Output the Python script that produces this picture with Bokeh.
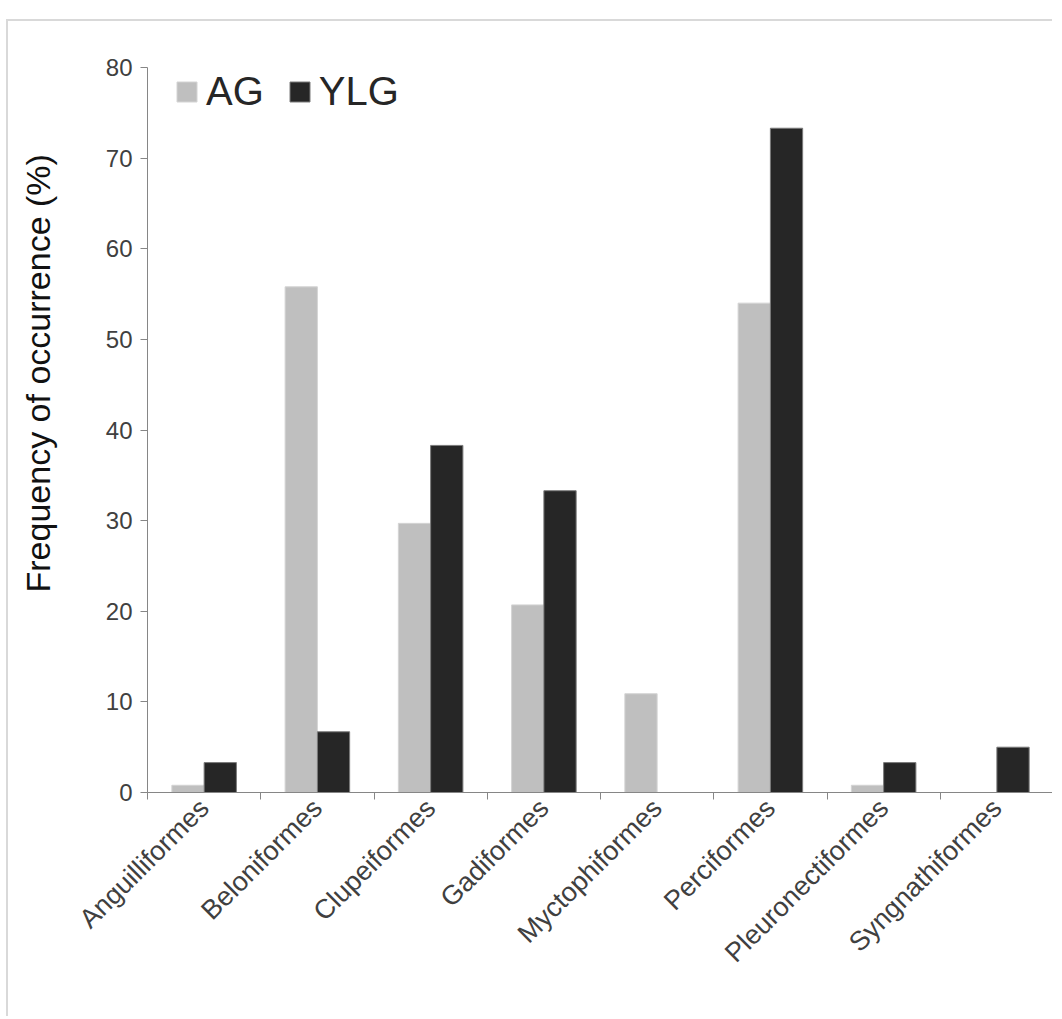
import math
from bokeh.plotting import figure
from bokeh.models import ColumnDataSource, FixedTicker, Range1d, Legend, LegendItem, Title
from bokeh.transform import dodge
from bokeh.embed import file_html
from bokeh.resources import INLINE

categories = ["Anguilliformes", "Beloniformes", "Clupeiformes", "Gadiformes",
              "Myctophiformes", "Perciformes", "Pleuronectiformes", "Syngnathiformes"]
ag = [0.8, 55.8, 29.7, 20.7, 10.9, 54.0, 0.8, 0.0]
ylg = [3.3, 6.7, 38.3, 33.3, 0.0, 73.3, 3.3, 5.0]
y_ticks = [0, 10, 20, 30, 40, 50, 60, 70, 80]
series_names = ["AG", "YLG"]
y_title = "Frequency of occurrence (%)"

centers = [i + 0.5 for i in range(len(categories))]
boundaries = list(range(len(categories) + 1))
src = ColumnDataSource(dict(x=centers, cat=categories, ag=ag, ylg=ylg))

FONT = "Liberation Sans"
AXIS_COL = "#868686"

p = figure(width=1046, height=997,
           x_range=Range1d(0, len(categories)), y_range=Range1d(0, y_ticks[-1]),
           output_backend="svg", toolbar_location=None,
           min_border_left=139, min_border_right=1, min_border_top=46, min_border_bottom=226)
p.styles = {"position": "relative", "top": "19px", "left": "6px",
            "border-top": "2px solid #d9d9d9", "border-left": "2px solid #d9d9d9"}

bw = 0.285
r1 = p.vbar(x=dodge("x", -bw / 2), top="ag", width=bw, bottom=0, source=src,
            fill_color="#bfbfbf", line_color="#d4d4d4", line_width=1)
r2 = p.vbar(x=dodge("x", bw / 2), top="ylg", width=bw, bottom=0, source=src,
            fill_color="#262626", line_color="#7a7a7a", line_width=1)

legend = Legend(items=[LegendItem(label=series_names[0], renderers=[r1]),
                       LegendItem(label=series_names[1], renderers=[r2])],
                orientation="horizontal", location=(27, 678), padding=0, margin=0,
                spacing=23, label_standoff=7, glyph_width=25, glyph_height=25,
                label_text_font=FONT, label_text_font_size="40px", label_text_color="#262626",
                border_line_color=None, background_fill_alpha=0)
p.add_layout(legend)

p.xgrid.visible = False
p.ygrid.visible = False
p.outline_line_color = None
p.background_fill_color = "white"
p.border_fill_color = "white"

ya = p.yaxis[0]
ya.ticker = FixedTicker(ticks=y_ticks)
ya.minor_tick_line_color = None
ya.major_tick_out = 7
ya.major_tick_in = 0
ya.axis_line_color = AXIS_COL
ya.major_tick_line_color = AXIS_COL
ya.major_label_text_font = FONT
ya.major_label_text_font_size = "24px"
ya.major_label_text_color = "#404040"
ya.major_label_standoff = 8

# second (blank) line pushes the title away from the axis
title = Title(text=y_title + "\n\u00a0", align="left", offset=200, standoff=16,
              vertical_align="bottom",
              text_font=FONT, text_font_size="34px", text_font_style="normal",
              text_color="#111111")
p.add_layout(title, "left")

xa = p.xaxis[0]
xa.ticker = FixedTicker(ticks=centers, minor_ticks=boundaries)
xa.major_label_overrides = {c: n for c, n in zip(centers, categories)}
xa.major_tick_out = 0
xa.major_tick_in = 0
xa.minor_tick_out = 7
xa.minor_tick_in = 0
xa.minor_tick_line_color = AXIS_COL
xa.axis_line_color = AXIS_COL
xa.major_label_orientation = math.pi / 4
xa.major_label_text_font = FONT
xa.major_label_text_font_size = "27px"
xa.major_label_text_color = "#404040"
xa.major_label_standoff = 4

open("out.html", "w").write(file_html(p, INLINE))
